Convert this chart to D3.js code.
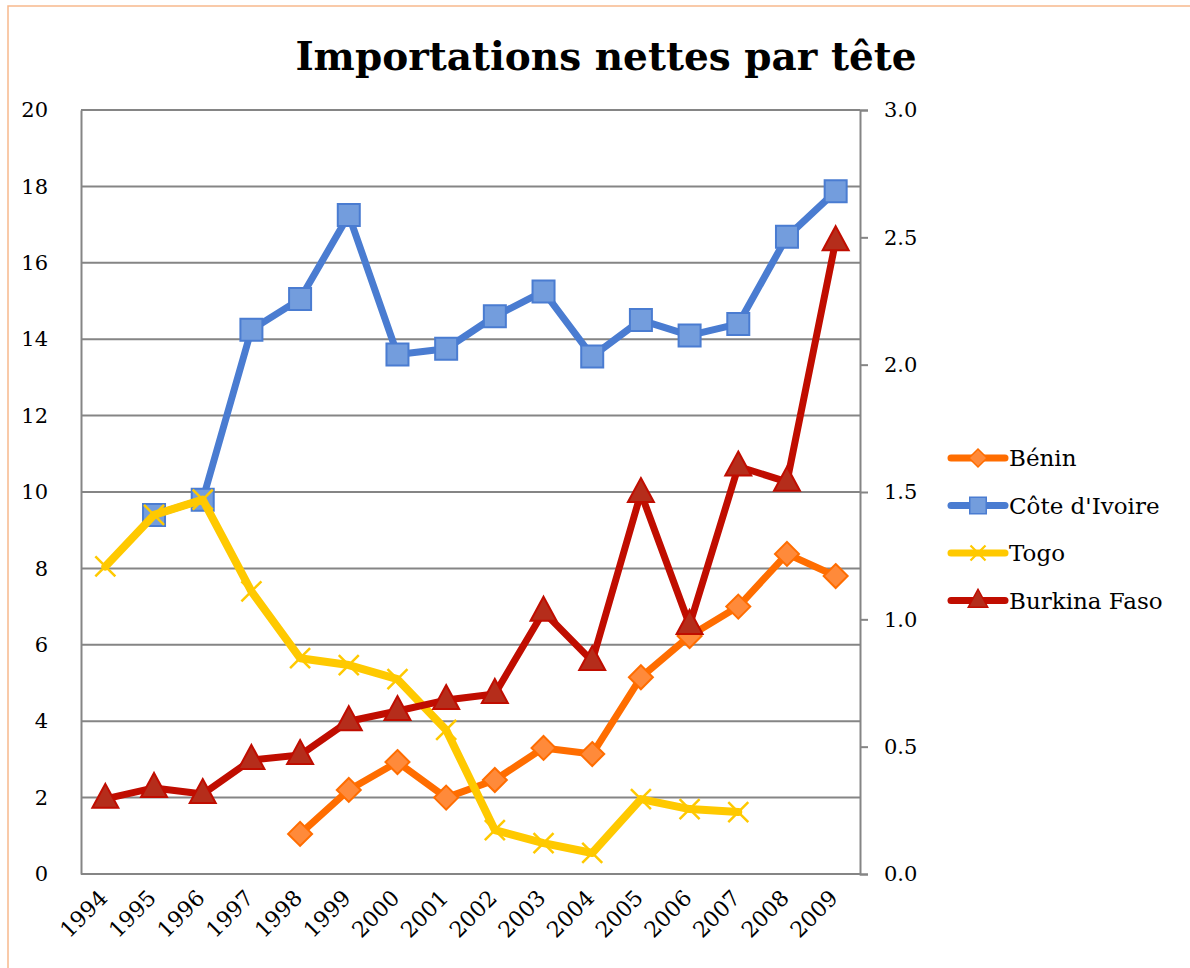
<!DOCTYPE html>
<html>
<head>
<meta charset="utf-8">
<script src="https://cdn.jsdelivr.net/npm/d3@7"></script>
<style>
  body { margin: 0; background: #fff; }
  text { font-family: "DejaVu Serif", serif; fill: #000; }
</style>
</head>
<body>
<svg width="1190" height="968"></svg>
<script>
    // years on the x axis
    const years = ['1994', '1995', '1996', '1997', '1998', '1999', '2000', '2001',
        '2002', '2003', '2004', '2005', '2006', '2007', '2008', '2009'];

    // left axis series (null = no value)
    const benin = [null, null, null, null, 1.05, 2.2, 2.93, 2.0, 2.46, 3.3, 3.14, 5.15, 6.23, 7.0, 8.38, 7.8];
    const coteIvoire = [null, 9.4, 9.8, 14.25, 15.05, 17.25, 13.6, 13.75, 14.6, 15.25, 13.55, 14.5, 14.1, 14.4, 16.68, 17.87];
    const togo = [8.05, 9.4, 9.8, 7.4, 5.65, 5.47, 5.1, 3.77, 1.15, 0.81, 0.55, 1.96, 1.7, 1.62, null, null];
    // right axis series
    const burkina = [0.295, 0.338, 0.314, 0.448, 0.467, 0.6, 0.64, 0.683, 0.707, 1.03, 0.836, 1.496, 0.978, 1.6, 1.54, 2.485];

    const leftTicks = [0, 2, 4, 6, 8, 10, 12, 14, 16, 18, 20];
    const rightTicks = [0, 0.5, 1.0, 1.5, 2.0, 2.5, 3.0];

    const series = [
        { name: 'Bénin', values: benin, axis: 'left', line: '#ff6d00', fill: '#ff8a3a', stroke: '#ff6d00', marker: 'diamond' },
        { name: "Côte d'Ivoire", values: coteIvoire, axis: 'left', line: '#4a7cd1', fill: '#739ddd', stroke: '#4a7cd1', marker: 'square' },
        { name: 'Togo', values: togo, axis: 'left', line: '#ffc900', fill: 'none', stroke: '#ffc900', marker: 'x' },
        { name: 'Burkina Faso', values: burkina, axis: 'right', line: '#c00d00', fill: '#b52d1b', stroke: '#c00d00', marker: 'triangle' }
    ];

    const svg = d3.select('svg');
    const plotL = 81, plotR = 860, plotT = 110, plotB = 874;

    // chart border
    svg.append('rect')
        .attr('x', 8).attr('y', 6)
        .attr('width', 1190).attr('height', 980)
        .attr('fill', 'none')
        .attr('stroke', '#f7b98d')
        .attr('stroke-width', 1.5);

    svg.append('text')
        .attr('x', 606).attr('y', 70)
        .attr('text-anchor', 'middle')
        .style('font-size', '39px')
        .style('font-weight', 'bold')
        .text('Importations nettes par tête');

    const x = d3.scaleBand().domain(years).range([plotL, plotR]);
    const yL = d3.scaleLinear().domain([0, 20]).range([plotB, plotT]);
    const yR = d3.scaleLinear().domain([0, 3]).range([plotB, plotT]);

    // gridlines
    svg.append('g').selectAll('line')
        .data(leftTicks)
        .enter().append('line')
        .attr('x1', plotL).attr('x2', plotR)
        .attr('y1', d => yL(d)).attr('y2', d => yL(d))
        .attr('stroke', '#858585')
        .attr('stroke-width', 2);

    // left axis
    const leftAxis = svg.append('g')
        .attr('transform', `translate(${plotL},0)`)
        .call(d3.axisLeft(yL).tickValues(leftTicks).tickSize(0).tickPadding(33));
    leftAxis.select('.domain').attr('stroke', '#858585').attr('stroke-width', 2);
    leftAxis.selectAll('text').style('font-size', '21px').style('font-family', '"DejaVu Serif", serif');

    // right axis
    const rightAxis = svg.append('g')
        .attr('transform', `translate(${plotR},0)`)
        .call(d3.axisRight(yR).tickValues(rightTicks).tickFormat(d3.format('.1f')).tickSize(8).tickPadding(16));
    rightAxis.select('.domain').attr('stroke', '#858585').attr('stroke-width', 2);
    rightAxis.selectAll('line').attr('stroke', '#858585').attr('stroke-width', 2);
    rightAxis.selectAll('text').style('font-size', '21px').style('font-family', '"DejaVu Serif", serif');

    // x labels, rotated
    svg.append('g').selectAll('text')
        .data(years)
        .enter().append('text')
        .attr('transform', d => `translate(${x(d) + x.bandwidth() / 2 - 2},${plotB + 20}) rotate(-45)`)
        .attr('text-anchor', 'end')
        .attr('dy', '0.35em')
        .style('font-size', '22px')
        .text(d => d);

    const markerPath = (type) => {
        if (type === 'diamond') return 'M0,-12L12,0L0,12L-12,0Z';
        if (type === 'square') return 'M-11,-11H11V11H-11Z';
        if (type === 'triangle') return 'M0,-15L13,9H-13Z';
        return 'M-10,-10L10,10M-10,10L10,-10';
    };

    series.forEach(s => {
        const y = s.axis === 'left' ? yL : yR;
        const pts = s.values.map((v, i) => ({ year: years[i], v })).filter(d => d.v !== null);
        const line = d3.line()
            .x(d => x(d.year) + x.bandwidth() / 2)
            .y(d => y(d.v));

        const g = svg.append('g');
        g.append('path')
            .datum(pts)
            .attr('d', line)
            .attr('fill', 'none')
            .attr('stroke', s.line)
            .attr('stroke-width', s.marker === 'x' ? 8 : 7)
            .attr('stroke-linejoin', 'round')
            .attr('stroke-linecap', 'round');

        g.selectAll('.mark')
            .data(pts)
            .enter().append('path')
            .attr('class', 'mark')
            .attr('transform', d => `translate(${x(d.year) + x.bandwidth() / 2},${y(d.v)})`)
            .attr('d', markerPath(s.marker))
            .attr('fill', s.fill)
            .attr('stroke', s.stroke)
            .attr('stroke-width', s.marker === 'x' ? 2.5 : 2);
    });

    // legend
    const legend = svg.append('g').attr('transform', 'translate(948,458)');
    const items = legend.selectAll('g')
        .data(series)
        .enter().append('g')
        .attr('transform', (d, i) => `translate(0,${i * 47.5})`);
    items.append('line')
        .attr('x1', 3).attr('x2', 57)
        .attr('stroke', d => d.line)
        .attr('stroke-width', 7)
        .attr('stroke-linecap', 'round');
    items.append('path')
        .attr('transform', 'translate(30,0) scale(0.75)')
        .attr('d', d => markerPath(d.marker))
        .attr('fill', d => d.fill)
        .attr('stroke', d => d.stroke)
        .attr('stroke-width', d => d.marker === 'x' ? 3 : 2);
    items.append('text')
        .attr('x', 61)
        .attr('dy', '0.35em')
        .style('font-size', '23px')
        .text(d => d.name);
</script>
</body>
</html>
